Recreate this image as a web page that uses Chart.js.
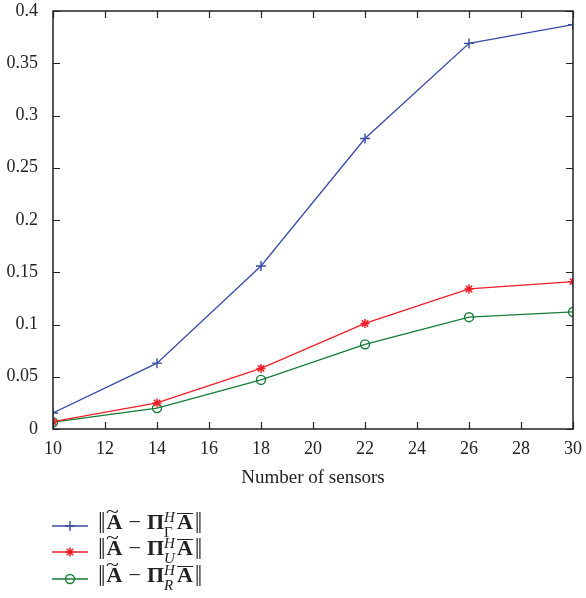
<!DOCTYPE html>
<html>
<head>
<meta charset="utf-8">
<script src="https://cdn.jsdelivr.net/npm/chart.js@4/dist/chart.umd.min.js"></script>
<style>
  html, body { margin: 0; padding: 0; background: #fff; }
  #wrap { position: relative; width: 586px; height: 598px; }
  #c { position: absolute; left: 0; top: 0; }
  .row { position: absolute; left: 50px; height: 26px; display: flex; align-items: center; }
  .row svg { display: block; }
  .math { font-family: "Liberation Serif", "DejaVu Serif", serif; font-size: 22px; color: #222; margin-left: 8px; white-space: nowrap; line-height: 1; display: flex; align-items: baseline; }
  .bars { font-weight: normal; font-size: 24px; letter-spacing: -2px; margin: 0 3px 0 0; position: relative; top: -1px; }
  .bars.r { margin: 0 0 0 2px; }
  .acc { position: relative; display: inline-block; font-weight: bold; line-height: 1; }
  .tl { position: absolute; left: -1px; top: -9px; font-weight: normal; font-size: 19px; line-height: 1; transform: scaleX(1.25); transform-origin: left; }
  .op { margin: 0 6px; }
  .pi { font-weight: bold; }
  .ov { display: inline-block; font-weight: bold; border-top: 1.6px solid #222; line-height: 15px; margin-left: 1px; }
  .ss { display: inline-block; font-size: 15px; line-height: 13px; margin-right: 1px; position: relative; top: 7px; }
  .ss span { display: block; }
  .it { font-style: italic; }
</style>
</head>
<body>
<div id="wrap">
  <canvas id="c" width="586" height="598"></canvas>
  <div id="legend"></div>
</div>
<script>
// ---- data ----
const sensors = [10, 14, 18, 22, 26, 30];
const errGamma = [0.0153, 0.063, 0.156, 0.278, 0.369, 0.387];
const errU = [0.007, 0.025, 0.058, 0.101, 0.134, 0.141];
const errR = [0.0065, 0.020, 0.047, 0.081, 0.107, 0.112];
const xTickValues = [10, 12, 14, 16, 18, 20, 22, 24, 26, 28, 30];
const yTickValues = [0, 0.05, 0.1, 0.15, 0.2, 0.25, 0.3, 0.35, 0.4];
const seriesSubs = ['Γ', 'U', 'R'];
const subItalic = [false, true, true];
const xTitle = 'Number of sensors';

const BLUE = 'rgb(55,75,165)';
const RED = 'rgb(240,30,40)';
const GREEN = 'rgb(20,125,55)';
const AXIS = '#222';

function pts(ys) { return sensors.map((x, i) => ({ x: x, y: ys[i] })); }
function fmt(v) { return String(Number(v.toFixed(2))); }

const frameTicks = {
  id: 'frameTicks',
  afterDatasetsDraw(chart) {
    const ctx = chart.ctx, a = chart.chartArea;
    const xs = chart.scales.x, ys = chart.scales.y;
    const L = 7;
    ctx.save();
    ctx.strokeStyle = AXIS;
    ctx.lineWidth = 1.5;
    ctx.strokeRect(a.left, a.top, a.right - a.left, a.bottom - a.top);
    ctx.lineWidth = 1.2;
    ctx.beginPath();
    xTickValues.forEach(v => {
      const p = Math.round(xs.getPixelForValue(v)) + 0.5;
      ctx.moveTo(p, a.bottom); ctx.lineTo(p, a.bottom - L);
      ctx.moveTo(p, a.top); ctx.lineTo(p, a.top + L);
    });
    yTickValues.forEach(v => {
      const p = Math.round(ys.getPixelForValue(v)) + 0.5;
      ctx.moveTo(a.left, p); ctx.lineTo(a.left + L, p);
      ctx.moveTo(a.right, p); ctx.lineTo(a.right - L, p);
    });
    ctx.stroke();
    ctx.restore();
  }
};

const tickFont = { family: '"Liberation Serif", "DejaVu Serif", serif', size: 18 };

new Chart(document.getElementById('c'), {
  type: 'line',
  data: {
    datasets: [
      { data: pts(errGamma), borderColor: BLUE, backgroundColor: 'rgba(0,0,0,0)', pointStyle: 'cross', pointRadius: 5, pointBorderColor: BLUE, pointBorderWidth: 1.4, borderWidth: 1.3 },
      { data: pts(errU), borderColor: RED, backgroundColor: 'rgba(0,0,0,0)', pointStyle: 'star', pointRadius: 4.5, pointBorderColor: RED, pointBorderWidth: 1.5, borderWidth: 1.3 },
      { data: pts(errR), borderColor: GREEN, backgroundColor: 'rgba(0,0,0,0)', pointStyle: 'circle', pointRadius: 4.5, pointBackgroundColor: 'rgba(0,0,0,0)', pointBorderColor: GREEN, pointBorderWidth: 1.4, borderWidth: 1.3 }
    ]
  },
  options: {
    responsive: false,
    animation: false,
    events: [],
    layout: { padding: { left: 0, right: 13, top: 11, bottom: 109 } },
    plugins: { legend: { display: false }, tooltip: { enabled: false } },
    elements: { line: { tension: 0 } },
    scales: {
      x: {
        type: 'linear', min: 10, max: 30,
        afterBuildTicks: s => { s.ticks = xTickValues.map(v => ({ value: v })); },
        afterFit: s => { s.height = 60; s.paddingLeft = 0; s.paddingRight = 0; },
        grid: { display: false },
        border: { display: false },
        ticks: { color: AXIS, font: tickFont, padding: 1, maxRotation: 0, callback: v => String(v) },
        title: { display: true, text: xTitle, color: AXIS, font: { family: '"Liberation Serif", "DejaVu Serif", serif', size: 19 }, padding: { top: 12, bottom: 0 } }
      },
      y: {
        type: 'linear', min: 0, max: 0.4,
        afterBuildTicks: s => { s.ticks = yTickValues.map(v => ({ value: v })); },
        afterFit: s => { s.width = 53; s.paddingTop = 0; s.paddingBottom = 0; },
        grid: { display: false },
        border: { display: false },
        ticks: { color: AXIS, font: tickFont, padding: 7, callback: v => fmt(v) }
      }
    }
  },
  plugins: [frameTicks]
});

// ---- HTML legend with math notation ----
const colors = [BLUE, RED, GREEN];
const styles = ['cross', 'star', 'circle'];
const rowCenters = [526, 552, 579];
const legend = document.getElementById('legend');
function markerSvg(color, style) {
  let m = '';
  const cx = 20, cy = 13;
  if (style === 'cross') m = `<path d="M${cx-5} ${cy}H${cx+5}M${cx} ${cy-5}V${cy+5}" stroke="${color}" stroke-width="1.4"/>`;
  else if (style === 'star') m = `<path d="M${cx-4.5} ${cy}H${cx+4.5}M${cx} ${cy-4.5}V${cy+4.5}M${cx-3.2} ${cy-3.2}L${cx+3.2} ${cy+3.2}M${cx-3.2} ${cy+3.2}L${cx+3.2} ${cy-3.2}" stroke="${color}" stroke-width="1.5"/>`;
  else m = `<circle cx="${cx}" cy="${cy}" r="4.5" fill="none" stroke="${color}" stroke-width="1.4"/>`;
  return `<svg width="40" height="26"><line x1="2" y1="${cy}" x2="38" y2="${cy}" stroke="${color}" stroke-width="1.3"/>${m}</svg>`;
}
seriesSubs.forEach((sub, i) => {
  const row = document.createElement('div');
  row.className = 'row';
  row.style.top = (rowCenters[i] - 13) + 'px';
  row.innerHTML = markerSvg(colors[i], styles[i]) +
    `<span class="math"><span class="bars">||</span><span class="acc">A<span class="tl">~</span></span><span class="op">−</span><span class="pi">Π</span>` +
    `<span class="ss"><span class="it" style="position:relative;top:-14px">H</span><span class="${subItalic[i] ? 'it' : ''}" style="position:relative;top:-12px">${sub}</span></span>` +
    `<span class="ov">A</span><span class="bars r">||</span></span>`;
  legend.appendChild(row);
});
</script>
</body>
</html>
